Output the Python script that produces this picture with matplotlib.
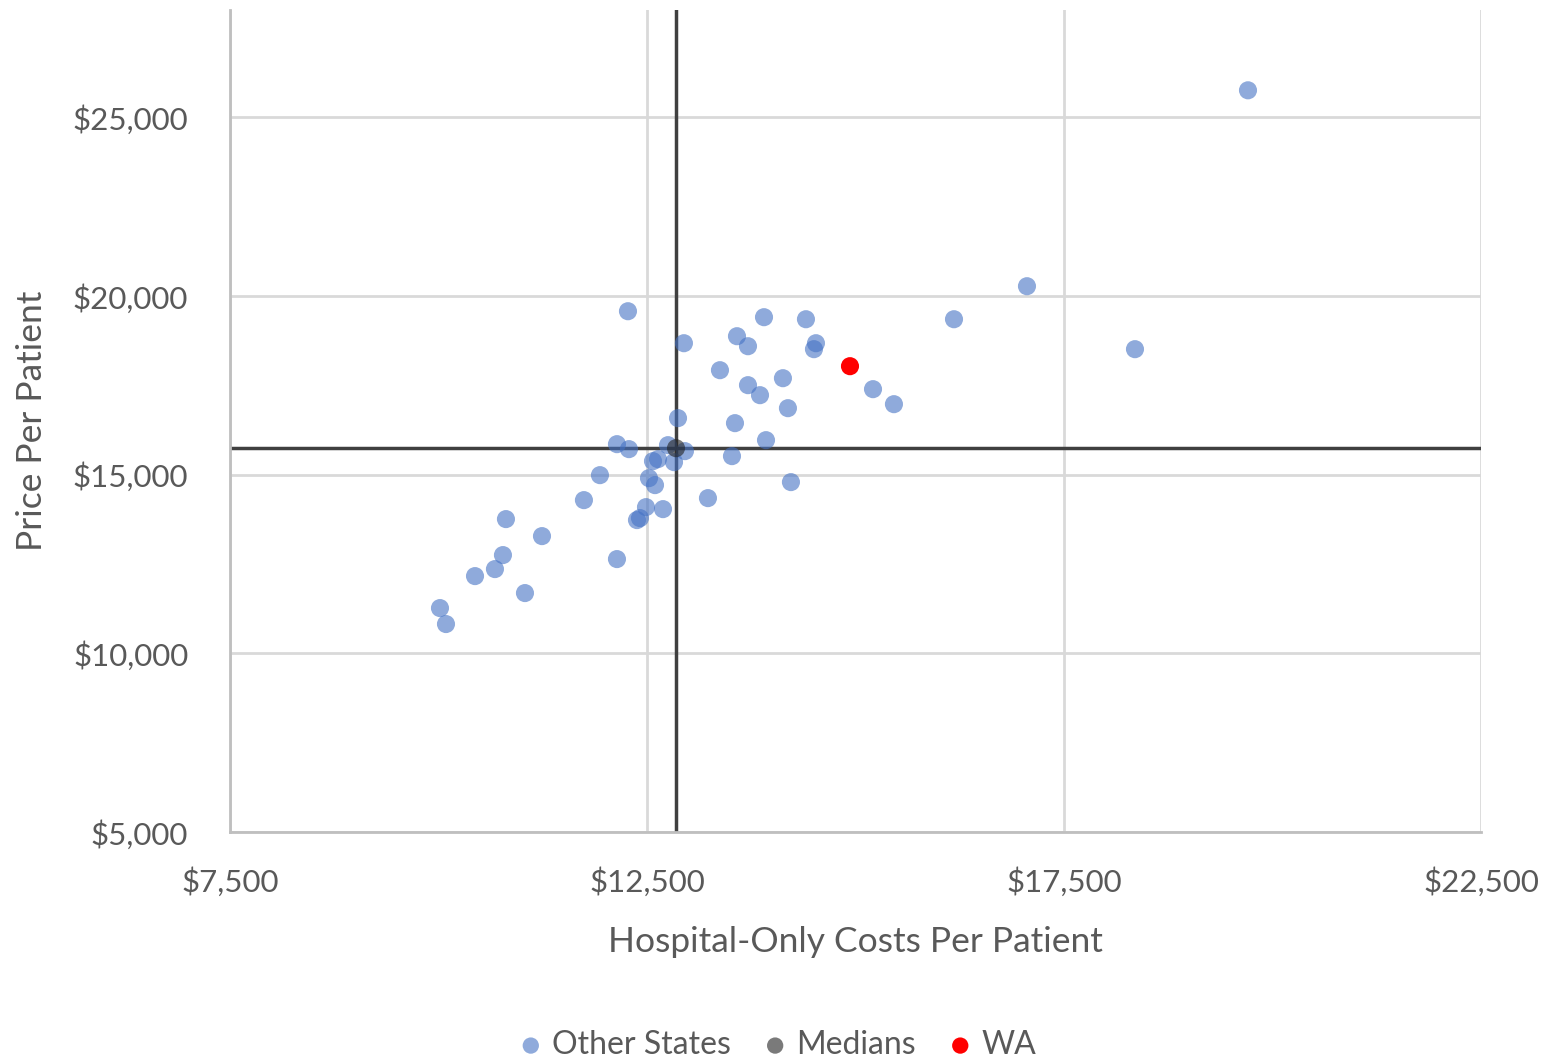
import matplotlib.pyplot as plt
from matplotlib.ticker import FuncFormatter

# hospital-only costs per patient (x) and price per patient (y), other states
other_cost = [19706, 17056, 16181, 18351, 12272, 13903, 14406, 13579, 13711, 12943,
              14526, 14502, 13375, 13711, 14130, 13855, 15210, 15461, 14190, 12872,
              13555, 13927, 12140, 12284, 12752, 12955, 13519, 12572, 12632, 12824,
              11936, 12524, 12596, 14226, 11744, 13231, 12488, 12692, 12380, 12416,
              10809, 11241, 10773, 10677, 10438, 11037, 12140, 10018, 10090]
other_price = [25754, 20272, 19348, 18510, 19572, 19405, 19348, 18873, 18593, 18677,
               18677, 18510, 17922, 17503, 17698, 17223, 17391, 16971, 16859, 16580,
               16440, 15964, 15852, 15713, 15824, 15657, 15517, 15377, 15433, 15349,
               14985, 14901, 14706, 14790, 14286, 14342, 14090, 14034, 13727, 13783,
               13755, 13279, 12748, 12356, 12160, 11685, 12636, 11265, 10818]

wa_cost = [14934]
wa_price = [18034]

median_cost = 12848
median_price = 15740

x_ticks = [7500, 12500, 17500, 22500]
y_ticks = [5000, 10000, 15000, 20000, 25000]

TEXT = "#595959"
GRID = "#D9D9D9"

plt.rcParams["font.family"] = ["Lato", "DejaVu Sans"]

fig = plt.figure(figsize=(15.57, 10.57), dpi=100)
ax = fig.add_axes([0.1477, 0.2129, 0.8035, 0.7776])

ax.set_xlim(7500, 22500)
ax.set_ylim(5000, 28000)
ax.set_xticks(x_ticks)
ax.set_yticks(y_ticks)
ax.grid(True, color=GRID, linewidth=2)
ax.set_axisbelow(True)

money = FuncFormatter(lambda v, p: f"${v:,.0f}")
ax.xaxis.set_major_formatter(money)
ax.yaxis.set_major_formatter(money)
ax.tick_params(length=0, labelsize=22.5, colors=TEXT)
ax.tick_params(axis="x", pad=25)
ax.tick_params(axis="y", pad=30)

for side in ["top", "right"]:
    ax.spines[side].set_visible(False)
for side in ["left", "bottom"]:
    ax.spines[side].set_color("#BFBFBF")
    ax.spines[side].set_linewidth(2)

# median cross-hairs
ax.axvline(median_cost, color="#404040", linewidth=2.5, zorder=2)
ax.axhline(median_price, color="#404040", linewidth=2.5, zorder=2)

ax.scatter(other_cost, other_price, s=170, color="#4472C4", alpha=0.6,
           edgecolors="none", label="Other States", zorder=3)
ax.scatter([median_cost], [median_price], s=170, color="#222222", alpha=0.6,
           edgecolors="none", label="Medians", zorder=4)
ax.scatter(wa_cost, wa_price, s=170, color="#FF0000",
           edgecolors="none", label="WA", zorder=5)

ax.set_xlabel("Hospital-Only Costs Per Patient", fontsize=25.5, color=TEXT, labelpad=21)
ax.set_ylabel("Price Per Patient", fontsize=25.5, color=TEXT, labelpad=18)

leg = fig.legend(loc="lower center", bbox_to_anchor=(0.5, -0.03), ncol=3,
                 frameon=False, fontsize=23, handlelength=0.6, handletextpad=0.35,
                 columnspacing=1.1, markerscale=0.9)
for t in leg.get_texts():
    t.set_color(TEXT)

fig.savefig("out.png", dpi=100)
